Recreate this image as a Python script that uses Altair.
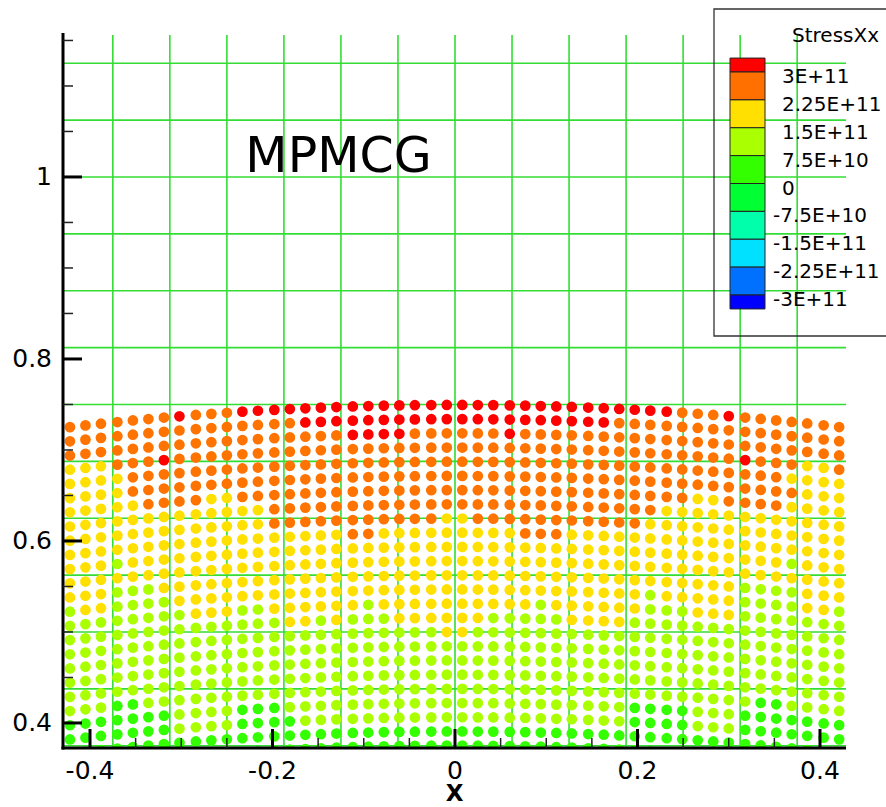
import altair as alt
import pandas as pd

# ---------------- particle lattice ----------------
col_x = [-0.422, -0.405, -0.388, -0.370, -0.353, -0.336, -0.319, -0.302, -0.284, -0.267,
         -0.250, -0.233, -0.216, -0.198, -0.181, -0.164, -0.147, -0.130, -0.112, -0.095,
         -0.078, -0.061, -0.044, -0.026, -0.009, 0.008, 0.025, 0.042, 0.060, 0.077,
         0.094, 0.111, 0.128, 0.146, 0.163, 0.180, 0.197, 0.214, 0.232, 0.249,
         0.266, 0.283, 0.300, 0.318, 0.335, 0.352, 0.369, 0.386, 0.404, 0.421]
col_top_y = [0.7251, 0.7270, 0.7289, 0.7307, 0.7324, 0.7340, 0.7356, 0.7370, 0.7385, 0.7397,
             0.7409, 0.7421, 0.7431, 0.7441, 0.7450, 0.7458, 0.7465, 0.7472, 0.7478, 0.7483,
             0.7487, 0.7490, 0.7492, 0.7494, 0.7495, 0.7495, 0.7494, 0.7493, 0.7490, 0.7487,
             0.7483, 0.7478, 0.7473, 0.7466, 0.7459, 0.7451, 0.7442, 0.7432, 0.7421, 0.7410,
             0.7398, 0.7385, 0.7372, 0.7356, 0.7341, 0.7325, 0.7308, 0.7291, 0.7271, 0.7252]
row_depth = [0.0, 0.0156, 0.0312, 0.0468, 0.0624, 0.0780, 0.0936, 0.1092, 0.1248, 0.1404,
             0.1560, 0.1716, 0.1872, 0.2028, 0.2184, 0.2340, 0.2496, 0.2652, 0.2808, 0.2964,
             0.3120, 0.3276, 0.3432, 0.3588, 0.3744]

# stress band of every particle, one string per row (R=red, O=orange, Y=yellow, L=lime, G=green)
stress_rows = [
    "OOO OOOO ROOO RRR RRRR RRR RRRR RRRR RRR RRRR RRRO OOR OOOO OOO",
    "OOO OOOO OOOO OOO ORRR RRR RRRR RRRR RRR RRRO OOOO OOO OOOO OOO",
    "OOO OOOO OOOO OOO OOOO RRR ROOO OOOR OOO OOOO OOOO OOO OOOO OOO",
    "YYY OOOR OOOO OOO OOOO OOO OOOO OOOO OOO OOOO OOOO OOO ROOO YYO",
    "YYY YOOO OOOO OOO OOOO OOO OOOO OOOO OOO OOOO OOOO OOO OOOY YYY",
    "YYY YOOO OOOO OOO OOOO OOO OOOO OOOO OOO OOOO OOOO OOO OOOO YYY",
    "YYY YYOO OOYY OOO OOOO OOO OOOO OOOO OOO OOOO OOOO YYO OOOY YYY",
    "YYY YYYY YYYY YYO OOOO OOO OOOO OOOO OOO OOOO OOYY YYY YYYY YYY",
    "YYY YYYY YYYY YYO OOOO OOO OOOY YOOO OOO OOOO OYYY YYY YYYY YYY",
    "YYY YYYY YYYY YYY YYYY OOY YYYY YYYY OOO YYYY YYYY YYY YYYY YYY",
    "YYY LYYY YYYY YYY YYYY YYY YYYY YYYY YYY YYYY YYYY YYY YYYL YYY",
    "YYY YYYY YYYY YYY YYYY YYY YYYY YYYY YYY YYYY YYYY YYY YYYY YYY",
    "YYY LLLY YYYY YYY YYYY YYY YYYY YYYY YYY YYYY YYYY YYY LLLL YYY",
    "LYY LLLL YYYY YYY YYYY YYY YYYY YYYY YYY YYYY YLYY YYY LLLL YYL",
    "LLL LLLL LYYY LLY YYYY YLY YYYY YYYY YLY YYYY YLLL YYY LLLL LLL",
    "LLL LLLL LLLL LLL YYLY LLL YYYY YYLL LLL YYYY LLLL LLL LLLL LLL",
    "LLL LLLL LLLL LLL LLLL LLL LLLY YLLL LLL LLLL LLLL LLL LLLL LLL",
    "LLL LLLL LLLL LLL LLLL LLL LLLL LLLL LLL LLLL LLLL LLL LLLL LLL",
    "LLL LLLL LLLL LLL LLLL LLL LLLL LLLL LLL LLLL LLLL LLL LLLL LLL",
    "LLL LLLL LLLL LLL LLLL LLL LLLL LLLL LLL LLLL LLLL LLL LLLL LLL",
    "LLL GGLL LLLL LLL LLLL LLL LLLL LLLL LLL LLLL LLLL LLL LGGL LLL",
    "GGG GGGG LLLL GGG LLLL LLL LLLL LLLL LLL LLLL GGGG LLL GGGG GGG",
    "GGG GGGG LLLL GGG GLLL LLL LLLL LLLL LLL LLLL GGGG LLL GGGG GGG",
    "GGG GGGG GGGG GGG GGGG GGG GGGG GGGG GGG GGGG GGGG GGG GGGG GGG",
    "GGG GGGG GGGG GGG GGGG GGG GGGG GGGG GGG GGGG GGGG GGG GGGG GGG",
]
band_color = {"R": "#ff0000", "O": "#ff7300", "Y": "#ffe000", "L": "#aaff00", "G": "#33ff00"}

# ---------------- legend (contour levels) ----------------
legend_levels = [3e11, 2.25e11, 1.5e11, 7.5e10, 0.0, -7.5e10, -1.5e11, -2.25e11, -3e11]
legend_labels = ["3E+11", "2.25E+11", "1.5E+11", "7.5E+10", "0",
                 "-7.5E+10", "-1.5E+11", "-2.25E+11", "-3E+11"]
band_hi = [3.375e11, 3e11, 2.25e11, 1.5e11, 7.5e10, 0.0, -7.5e10, -1.5e11, -2.25e11, -3e11]
band_lo = [3e11, 2.25e11, 1.5e11, 7.5e10, 0.0, -7.5e10, -1.5e11, -2.25e11, -3e11, -3.375e11]
band_colors = ["#ff0000", "#ff7000", "#ffe000", "#aaff00", "#33ff00",
               "#00ff33", "#00ffaa", "#00e0ff", "#0070ff", "#0000ff"]

# ---------------- background mesh and axis ticks ----------------
mesh_x = [-0.375, -0.3125, -0.25, -0.1875, -0.125, -0.0625, 0.0, 0.0625, 0.125,
          0.1875, 0.25, 0.3125, 0.375]
mesh_y = [0.375, 0.4375, 0.5, 0.5625, 0.625, 0.6875, 0.75, 0.8125, 0.875,
          0.9375, 1.0, 1.0625, 1.125]
x_major = [-0.4, -0.2, 0.0, 0.2, 0.4]
x_labels = ["-0.4", "-0.2", "0", "0.2", "0.4"]
x_minor = [-0.35, -0.3, -0.25, -0.15, -0.1, -0.05, 0.05, 0.1, 0.15, 0.25, 0.3, 0.35]
y_major = [0.4, 0.6, 0.8, 1.0]
y_labels = ["0.4", "0.6", "0.8", "1"]
y_minor = [0.45, 0.5, 0.55, 0.65, 0.7, 0.75, 0.85, 0.9, 0.95, 1.05, 1.1, 1.15]

# ---------------- build tables ----------------
pts = []
for j, row in enumerate(stress_rows):
    s = row.replace(" ", "")
    s = (s + s[-1] * 50)[:len(col_x)]
    for k, xv in enumerate(col_x):
        pts.append({"x": xv, "y": col_top_y[k] - row_depth[j], "c": band_color[s[k]]})
df_pts = pd.DataFrame(pts)

FONT = "DejaVu Sans"
W, H = 783, 713
xs = alt.Scale(domain=[-0.4296, 0.4285], nice=False, zero=False)
ys = alt.Scale(domain=[0.3725, 1.1560], nice=False, zero=False)

# legend colour bar geometry (pixels inside the plot frame)
LEG_TOP, LEG_BOT = 37.0, 260.0   # pixel rows of the +3E+11 and -3E+11 levels
def leg_px(v):
    return LEG_TOP + (3e11 - v) / 6e11 * (LEG_BOT - LEG_TOP)

df_bands = pd.DataFrame({"lo": [leg_px(v) for v in band_lo],
                         "hi": [leg_px(v) for v in band_hi], "c": band_colors})
df_lab = pd.DataFrame({"v": legend_levels, "p": [leg_px(v) for v in legend_levels],
                       "t": legend_labels})

def X(field):
    return alt.X(field, scale=xs, axis=None, title=None)

def Y(field):
    return alt.Y(field, scale=ys, axis=None, title=None)

one = pd.DataFrame({"t": ["X"]})
mesh_color = "#33dd33"
grid_v = alt.Chart(pd.DataFrame({"v": mesh_x})).mark_rule(
    color=mesh_color, strokeWidth=1.6).encode(x=X("v:Q"))
grid_h = alt.Chart(pd.DataFrame({"v": mesh_y})).mark_rule(
    color=mesh_color, strokeWidth=1.6).encode(y=Y("v:Q"))

points = alt.Chart(df_pts).mark_circle(size=115, opacity=1, clip=True).encode(
    x=X("x:Q"), y=Y("y:Q"), color=alt.Color("c:N", scale=None))

# axis frame lines
axis_left = alt.Chart(one).mark_rule(color="black", strokeWidth=3).encode(
    x=alt.value(0), y=alt.value(-2), y2=alt.value(H + 1.5))
axis_bottom = alt.Chart(one).mark_rule(color="black", strokeWidth=3).encode(
    y=alt.value(H), x=alt.value(-1.5), x2=alt.value(W))

xt_major = alt.Chart(pd.DataFrame({"v": x_major})).mark_rule(color="black", strokeWidth=3).encode(
    x=X("v:Q"), y=alt.value(H), y2=alt.value(H - 19))
xt_minor = alt.Chart(pd.DataFrame({"v": x_minor})).mark_rule(color="#222222", strokeWidth=1.5).encode(
    x=X("v:Q"), y=alt.value(H), y2=alt.value(H - 10))
yt_major = alt.Chart(pd.DataFrame({"v": y_major})).mark_rule(color="black", strokeWidth=3).encode(
    y=Y("v:Q"), x=alt.value(0), x2=alt.value(19))
yt_minor = alt.Chart(pd.DataFrame({"v": y_minor})).mark_rule(color="#222222", strokeWidth=1.5).encode(
    y=Y("v:Q"), x=alt.value(0), x2=alt.value(10))

x_lab = alt.Chart(pd.DataFrame({"v": x_major, "t": x_labels})).mark_text(
    font=FONT, fontSize=25, align="center", baseline="top", color="black").encode(
    x=X("v:Q"), y=alt.value(H + 11), text="t:N")
y_lab = alt.Chart(pd.DataFrame({"v": y_major, "t": y_labels})).mark_text(
    font=FONT, fontSize=25, align="right", baseline="middle", color="black").encode(
    y=Y("v:Q"), x=alt.value(-11), text="t:N")
x_title = alt.Chart(one).mark_text(
    font=FONT, fontSize=23, fontWeight="bold", align="center", baseline="alphabetic",
    color="black").encode(x=alt.value(W / 2), y=alt.value(H + 53), text="t:N")

label_mpm = alt.Chart(pd.DataFrame({"t": ["MPMCG"]})).mark_text(
    font=FONT, fontSize=49, align="center", baseline="alphabetic", color="black").encode(
    x=alt.value(275.5), y=alt.value(137), text="t:N")

box = alt.Chart(one).mark_rect(
    fillOpacity=0, stroke="#333333", strokeWidth=1.3).encode(
    x=alt.value(651), x2=alt.value(830), y=alt.value(-26), y2=alt.value(301))
bars = alt.Chart(df_bands).mark_rect(stroke="#222222", strokeWidth=1).encode(
    x=alt.value(667), x2=alt.value(702),
    y=alt.Y("lo:Q", scale=None), y2="hi:Q",
    color=alt.Color("c:N", scale=None))
lab_pos = alt.Chart(df_lab).transform_filter("datum.v >= 0").mark_text(
    font=FONT, fontSize=20, align="left", baseline="middle", dy=5, color="black").encode(
    x=alt.value(719), y=alt.Y("p:Q", scale=None), text="t:N")
lab_neg = alt.Chart(df_lab).transform_filter("datum.v < 0").mark_text(
    font=FONT, fontSize=20, align="left", baseline="middle", dy=5, color="black").encode(
    x=alt.value(710), y=alt.Y("p:Q", scale=None), text="t:N")
leg_title = alt.Chart(pd.DataFrame({"t": ["StressXx"]})).mark_text(
    font=FONT, fontSize=20, align="left", baseline="alphabetic", color="black").encode(
    x=alt.value(729), y=alt.value(7), text="t:N")

chart = alt.layer(grid_v, grid_h, box, points, axis_left, axis_bottom,
                  xt_major, xt_minor, yt_major, yt_minor, x_lab, y_lab, x_title,
                  label_mpm, bars, lab_pos, lab_neg, leg_title).properties(
    width=W, height=H,
    padding={"left": 63, "top": 35, "right": 40, "bottom": 59},
    autosize=alt.AutoSizeParams(type="none"),
    background="white",
).configure_view(stroke=None)

chart.save("out.html", embed_options={"renderer": "svg", "actions": False})
